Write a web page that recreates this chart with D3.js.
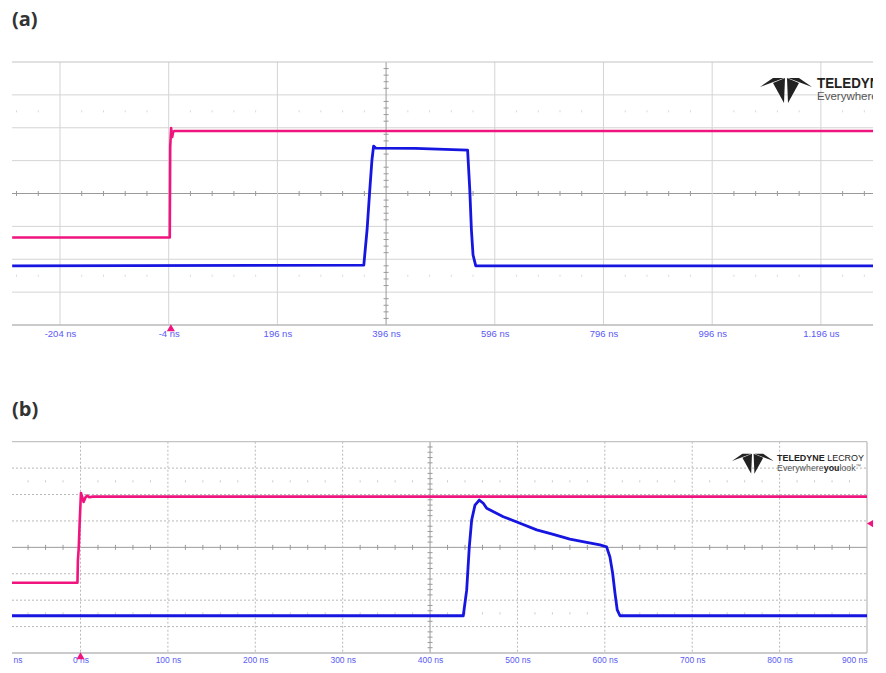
<!DOCTYPE html>
<html>
<head>
<meta charset="utf-8">
<script src="https://cdn.jsdelivr.net/npm/d3@7/dist/d3.min.js"></script>
<style>
  html, body { margin: 0; padding: 0; background: #ffffff; }
  svg { display: block; }
</style>
</head>
<body>
<svg id="chart" width="886" height="673"></svg>
<script>
// ---------------- DATA ----------------
// Panel (a): time in ns, amplitude in divisions from screen centre
const aTickTimes  = [-204, -4, 196, 396, 596, 796, 996, 1196];
const aTickLabels = ["-204 ns", "-4 ns", "196 ns", "396 ns", "596 ns", "796 ns", "996 ns", "1.196 us"];
const aPinkTime = [-292, -2, -1.2, 0.5, 2.5, 4, 6, 1292];
const aPinkVal  = [-1.34, -1.34, 1.42, 1.99, 1.72, 1.86, 1.90, 1.90];
const aBlueTime = [-292, 355, 361, 366, 370, 373, 377, 450, 546, 550, 553, 556, 561, 1292];
const aBlueVal  = [-2.2, -2.18, -1.11, 0.11, 1.02, 1.44, 1.38, 1.37, 1.32, 0.11, -1.11, -1.87, -2.2, -2.2];

// Panel (b)
const bTickTimes  = [-100, 0, 100, 200, 300, 400, 500, 600, 700, 800, 900];
const bTickLabels = ["-100 ns", "0 ns", "100 ns", "200 ns", "300 ns", "400 ns", "500 ns", "600 ns", "700 ns", "800 ns", "900 ns"];
const bPinkTime = [-78.4, -3.5, -3, -2, -1, 0.5, 2, 3.5, 5.5, 7.5, 10, 14, 900];
const bPinkVal  = [-1.34, -1.34, -0.5, 0.0, 0.9, 2.06, 1.9, 1.72, 1.88, 1.96, 1.9, 1.92, 1.92];
const bBlueTime = [-78.4, 438, 441.9, 444.9, 447.6, 451.4, 456.3, 460.9, 464.8, 483.8, 502.9, 522, 541, 560, 579.2, 594.4, 602, 605.8, 608.9, 611.6, 614.2, 617.3, 900];
const bBlueVal  = [-2.59, -2.59, -1.62, 0.02, 1.03, 1.60, 1.79, 1.67, 1.48, 1.16, 0.91, 0.66, 0.49, 0.31, 0.19, 0.09, 0.02, -0.36, -0.97, -1.73, -2.37, -2.59, -2.59];
const bTrigLevel = 0.9;

// ---------------- DRAW ----------------
const PINK = "#f0147f";
const BLUE = "#1616e0";
const LABEL = "#5a5af5";
const svg = d3.select("#chart");
const defs = svg.append("defs");

function zip(t, v) { return t.map((d, i) => ({ t: d, v: v[i] })); }

function drawLogo(g, x, y, s) {
  const lg = g.append("g").attr("transform", `translate(${x},${y}) scale(${s})`);
  const shapes = [
    "M0,10 L13,1 L24,1 Z",
    "M13,6 L25,1 L24,26 Z",
    "M52,10 L39,1 L28,1 Z",
    "M39,6 L27,1 L28,26 Z"
  ];
  lg.selectAll("path").data(shapes).join("path").attr("d", d => d).attr("fill", "#222");
}

function panel(cfg) {
  const g = svg.append("g");
  const x = d3.scaleLinear().domain(cfg.xDomain).range([cfg.left, cfg.right]);
  const y = d3.scaleLinear().domain([-4, 4]).range([cfg.bottom, cfg.top]);
  const clipId = "clip" + cfg.name;
  defs.append("clipPath").attr("id", clipId).append("rect")
    .attr("x", cfg.left).attr("y", cfg.top - 2).attr("width", cfg.clipRight - cfg.left).attr("height", cfg.bottom - cfg.top + 4);
  const lblClip = "lclip" + cfg.name;
  defs.append("clipPath").attr("id", lblClip).append("rect")
    .attr("x", cfg.left).attr("y", cfg.bottom).attr("width", cfg.clipRight - cfg.left + 2).attr("height", 20);

  // title
  svg.append("text").attr("x", 12).attr("y", cfg.titleY)
    .attr("font-family", "'Open Sans', 'Noto Sans', sans-serif").attr("font-weight", 700)
    .attr("font-size", 20).attr("fill", "#333").text(cfg.title);

  const grid = g.append("g").attr("clip-path", `url(#${clipId})`);
  // horizontal grid lines
  const hv = d3.range(-3, 4);
  grid.selectAll("line.h").data(hv).join("line")
    .attr("x1", cfg.left).attr("x2", cfg.clipRight)
    .attr("y1", d => y(d)).attr("y2", d => y(d))
    .attr("stroke", d => d === 0 ? "#9a9a9a" : cfg.gridColor)
    .attr("stroke-width", 1)
    .attr("stroke-dasharray", d => d === 0 ? null : cfg.dash);
  // vertical grid lines
  const centreT = cfg.centreT;
  grid.selectAll("line.v").data(cfg.ticks.filter(t => x(t) > cfg.left && x(t) < cfg.right - 1)).join("line")
    .attr("x1", d => x(d)).attr("x2", d => x(d))
    .attr("y1", cfg.top).attr("y2", cfg.bottom)
    .attr("stroke", d => d === centreT ? "#9a9a9a" : cfg.gridColor)
    .attr("stroke-dasharray", d => d === centreT ? null : cfg.dash);
  // minor ticks
  const step = cfg.div / 5;
  const minorT = d3.range(centreT - 20 * cfg.div, centreT + 20 * cfg.div, step)
    .filter(t => x(t) > cfg.left && x(t) < cfg.clipRight && Math.abs(Math.round((t - centreT) / cfg.div) - (t - centreT) / cfg.div) > 0.01);
  grid.selectAll("line.mt").data(minorT).join("line")
    .attr("x1", d => x(d)).attr("x2", d => x(d))
    .attr("y1", y(0) - 2.5).attr("y2", y(0) + 2.5).attr("stroke", "#9a9a9a");
  [2.5, -2.5].forEach(v => {
    grid.selectAll(null).data(minorT).join("line")
      .attr("x1", d => x(d)).attr("x2", d => x(d))
      .attr("y1", y(v) - 1).attr("y2", y(v) + 1).attr("stroke", cfg.dotColor);
  });
  const minorV = d3.range(-4, 4.001, 0.2).filter(v => Math.abs(Math.round(v) - v) > 0.01);
  grid.selectAll("line.mv").data(minorV).join("line")
    .attr("x1", x(centreT) - 2.5).attr("x2", x(centreT) + 2.5)
    .attr("y1", d => y(d)).attr("y2", d => y(d)).attr("stroke", "#9a9a9a");

  // borders
  g.append("line").attr("x1", cfg.left).attr("x2", cfg.clipRight).attr("y1", cfg.top).attr("y2", cfg.top)
    .attr("stroke", "#c4c4c4").attr("stroke-width", 1.2);
  g.append("line").attr("x1", cfg.left).attr("x2", cfg.clipRight).attr("y1", cfg.bottom).attr("y2", cfg.bottom)
    .attr("stroke", "#b8b8b8").attr("stroke-width", 1.5);
  if (cfg.rightBorder) {
    g.append("line").attr("x1", cfg.right).attr("x2", cfg.right).attr("y1", cfg.top).attr("y2", cfg.bottom)
      .attr("stroke", "#b8b8b8").attr("stroke-width", 1.2);
  }

  // logo
  drawLogo(g.append("g").attr("clip-path", `url(#${clipId})`), cfg.logo.x, cfg.logo.y, cfg.logo.s);
  const lt = g.append("g").attr("clip-path", `url(#${clipId})`);
  const t1 = lt.append("text").attr("x", cfg.logo.tx).attr("y", cfg.logo.ty1)
    .attr("font-family", "'Liberation Sans', Arial, sans-serif").attr("font-size", cfg.logo.fs1).attr("fill", "#222");
  t1.append("tspan").attr("font-weight", 700).text("TELEDYNE");
  t1.append("tspan").text(" LECROY");
  if (cfg.logo.len1) t1.attr("textLength", cfg.logo.len1).attr("lengthAdjust", "spacingAndGlyphs");
  const t2 = lt.append("text").attr("x", cfg.logo.tx).attr("y", cfg.logo.ty2)
    .attr("font-family", "'Liberation Sans', Arial, sans-serif").attr("font-size", cfg.logo.fs2).attr("fill", "#555");
  t2.append("tspan").text("Everywhere");
  t2.append("tspan").attr("font-weight", 700).attr("fill", "#222").text("you");
  t2.append("tspan").text("look");
  t2.append("tspan").attr("font-size", cfg.logo.fs2 * 0.6).attr("dy", -3).text("™");
  if (cfg.logo.len2) t2.attr("textLength", cfg.logo.len2).attr("lengthAdjust", "spacingAndGlyphs");

  // traces
  const line = d3.line().x(d => x(d.t)).y(d => y(d.v));
  const tr = g.append("g").attr("clip-path", `url(#${clipId})`);
  tr.append("path").datum(zip(cfg.pinkT, cfg.pinkV)).attr("d", line)
    .attr("fill", "none").attr("stroke", PINK).attr("stroke-width", 2.6).attr("stroke-linejoin", "round");
  tr.append("path").datum(zip(cfg.blueT, cfg.blueV)).attr("d", line)
    .attr("fill", "none").attr("stroke", BLUE).attr("stroke-width", 2.8).attr("stroke-linejoin", "round");

  // axis labels (clip on an untransformed wrapper)
  const axis = d3.axisBottom(x).tickValues(cfg.ticks)
    .tickFormat((d, i) => cfg.labels[i]).tickSize(0).tickPadding(cfg.pad);
  const ax = g.append("g").attr("clip-path", `url(#${lblClip})`)
    .append("g").attr("transform", `translate(0,${cfg.bottom})`).call(axis);
  ax.select(".domain").remove();
  ax.selectAll("text").attr("fill", LABEL).attr("font-size", cfg.labelSize)
    .attr("font-family", "'Liberation Sans', Arial, sans-serif");
  if (cfg.edgeLabels) {
    const texts = ax.selectAll(".tick text").nodes();
    d3.select(texts[0]).attr("text-anchor", "end").attr("x", cfg.left + 10 - x(cfg.ticks[0]));
    d3.select(texts[texts.length - 1]).attr("text-anchor", "end").attr("x", 0);
  }

  // trigger marker (bottom, pointing up)
  g.append("path")
    .attr("d", d3.symbol(d3.symbolTriangle, 28)())
    .attr("transform", `translate(${x(0)},${cfg.bottom + 4})`)
    .attr("fill", PINK);
  return { x, y, g };
}

panel({
  name: "a", title: "(a)", titleY: 26,
  xDomain: [-292.3, 1291.9], left: 12, right: 873, clipRight: 873,
  top: 62, bottom: 325, div: 200, centreT: 396,
  ticks: aTickTimes, labels: aTickLabels, labelSize: 9.5, pad: 5,
  gridColor: "#d4d4d4", dash: null, dotColor: "#d8d8d8",
  pinkT: aPinkTime, pinkV: aPinkVal, blueT: aBlueTime, blueV: aBlueVal,
  logo: { x: 760, y: 77, s: 1, tx: 817, ty1: 88, ty2: 100, fs1: 14, fs2: 11.5, len1: 130, len2: null },
  edgeLabels: false, rightBorder: false
});

const pb = panel({
  name: "b", title: "(b)", titleY: 416,
  xDomain: [-78.4, 900], left: 12, right: 867, clipRight: 867,
  top: 441.7, bottom: 653, div: 100, centreT: 400,
  ticks: bTickTimes, labels: bTickLabels, labelSize: 8.5, pad: 4,
  gridColor: "#b8b8b8", dash: "2,2", dotColor: "#c8c8c8",
  pinkT: bPinkTime, pinkV: bPinkVal, blueT: bBlueTime, blueV: bBlueVal,
  logo: { x: 732, y: 453, s: 0.8, tx: 777, ty1: 460.5, ty2: 471, fs1: 9.6, fs2: 8.6, len1: 87, len2: 84 },
  edgeLabels: true, rightBorder: true
});

// trigger level marker at right of panel (b)
pb.g.append("path")
  .attr("d", d3.symbol(d3.symbolTriangle, 22)())
  .attr("transform", `translate(${871},${pb.y(bTrigLevel)}) rotate(-90)`)
  .attr("fill", PINK);
</script>
</body>
</html>
